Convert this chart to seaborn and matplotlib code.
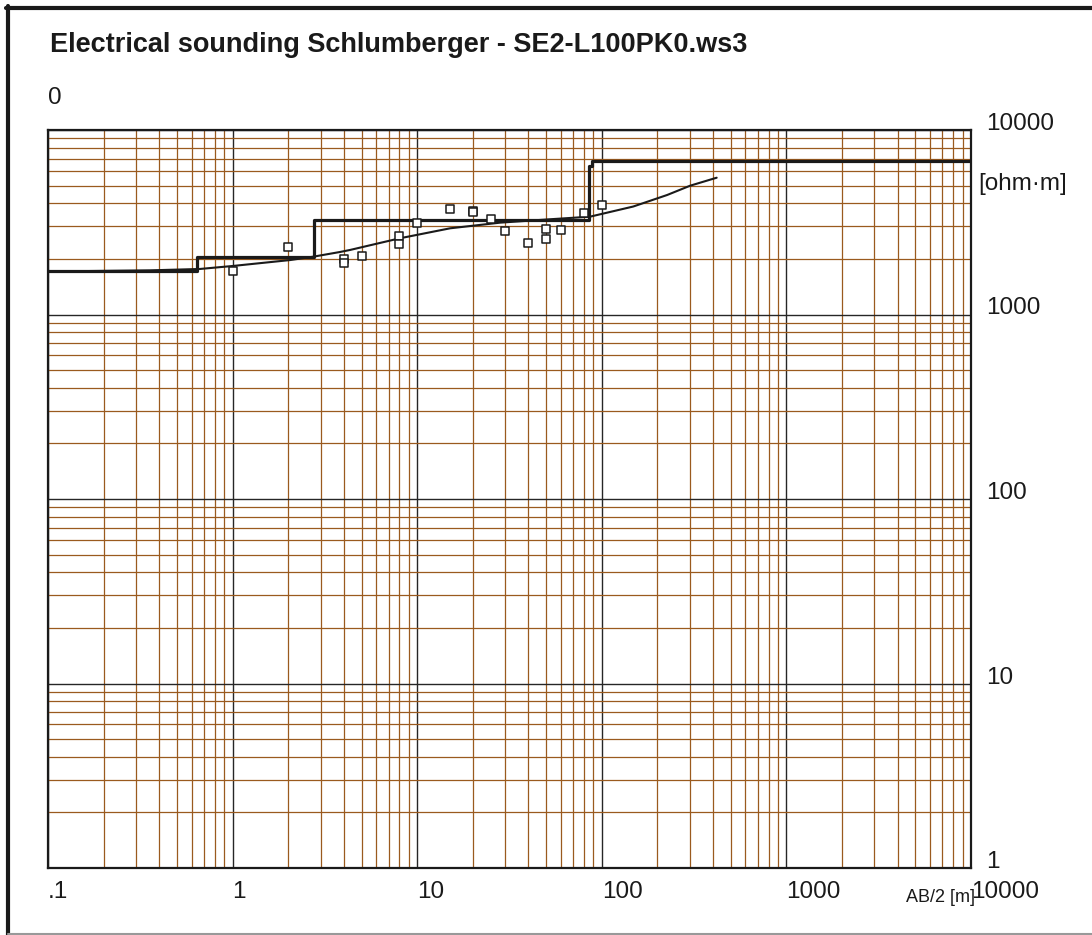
import matplotlib
matplotlib.use('Agg')
import matplotlib.pyplot as plt
import matplotlib.ticker as mticker
from matplotlib.lines import Line2D
import seaborn as sns
import pandas as pd

# Data
###############################################################################

# measured apparent resistivity (squares)
ab2 = [1, 2, 4, 4, 5, 8, 8, 10, 15, 20, 20, 25, 30, 40, 50, 50, 60, 80, 100]
rho = [1720, 2330, 1990, 1905, 2075, 2660, 2410, 3115, 3720, 3650, 3615,
       3280, 2845, 2450, 2920, 2575, 2870, 3560, 3900]

# calculated sounding curve
curve_ab2 = [0.1, 0.357, 0.665, 1.0, 2.05, 2.73, 3.82, 4.33, 8.07, 15.1,
             28.1, 52.4, 86.3, 148, 226, 301, 419]
curve_rho = [1710, 1735, 1765, 1832, 1973, 2057, 2182, 2238, 2590, 2933,
             3146, 3282, 3390, 3848, 4444, 4990, 5513]

# layered model (step line)
model_ab2 = [0.1, 0.64, 2.76, 85.3, 88.5, 10000]
model_rho = [1727, 2056, 3270, 6380, 6830, 6830]

x_ticks = [0.1, 1, 10, 100, 1000, 10000]
x_labels = ['.1', '1', '10', '100', '1000', '10000']
y_ticks = [1, 10, 100, 1000, 10000]
y_labels = ['1', '10', '100', '1000', '10000']

df_meas = pd.DataFrame({'AB/2': ab2, 'rho': rho})
df_curve = pd.DataFrame({'AB/2': curve_ab2, 'rho': curve_rho})
df_model = pd.DataFrame({'AB/2': model_ab2, 'rho': model_rho})

# Style
###############################################################################

sns.set_theme(style='white')
plt.rcParams['font.family'] = ['Liberation Sans', 'DejaVu Sans']
plt.rcParams['text.color'] = 'k'

fig = plt.figure(figsize=(10.92, 9.35), dpi=100)
ax = fig.add_axes([48 / 1092, 1 - 868 / 935, (971 - 48) / 1092, (868 - 130) / 935])

ax.set_xscale('log')
ax.set_yscale('log')
ax.set_xlim(0.1, 10000)
ax.set_ylim(1, 10000)

ax.xaxis.set_minor_locator(mticker.LogLocator(base=10, subs=range(2, 10), numticks=50))
ax.yaxis.set_minor_locator(mticker.LogLocator(base=10, subs=range(2, 10), numticks=50))
ax.xaxis.set_minor_formatter(mticker.NullFormatter())
ax.yaxis.set_minor_formatter(mticker.NullFormatter())

ax.grid(which='minor', color='#9a5a1e', linewidth=0.9)
ax.grid(which='major', color='#262626', linewidth=1.0)
ax.set_axisbelow(True)

# Plot
###############################################################################

sns.lineplot(data=df_model, x='AB/2', y='rho', ax=ax, color='k', linewidth=2.3,
             drawstyle='steps-post', sort=False, estimator=None, zorder=3)
sns.lineplot(data=df_curve, x='AB/2', y='rho', ax=ax, color='k', linewidth=1.5,
             sort=False, estimator=None, zorder=4)
sns.scatterplot(data=df_meas, x='AB/2', y='rho', ax=ax, marker='s', s=34,
                facecolor='white', edgecolor='k', linewidth=1.1, zorder=5)

ax.set_xlabel('')
ax.set_ylabel('')

ax.set_xticks(x_ticks)
ax.set_xticklabels(x_labels, ha='left', fontsize=17.5)
ax.yaxis.tick_right()
ax.set_yticks(y_ticks)
ax.set_yticklabels(y_labels, ha='left', va='baseline', fontsize=17.5)
ax.tick_params(axis='x', which='both', length=0, pad=9, colors='k')
ax.tick_params(axis='y', which='both', length=0, pad=11, colors='k')
for lab in ax.get_yticklabels():
    lab.set_va('baseline')

for sp in ax.spines.values():
    sp.set_color('k')
    sp.set_linewidth(1.6)

# Texts
###############################################################################

fig.text(50 / 1092, 1 - 52 / 935, 'Electrical sounding Schlumberger - SE2-L100PK0.ws3',
         fontsize=19.5, fontweight='bold', ha='left', va='baseline', color='k')
fig.text(48 / 1092, 1 - 104 / 935, '0', fontsize=17.5, ha='left', va='baseline', color='k')
fig.text(978 / 1092, 1 - 190 / 935, '[ohm·m]', fontsize=17.5, ha='left', va='baseline',
         color='k')
fig.text(975 / 1092, 1 - 902 / 935, 'AB/2 [m]', fontsize=13, ha='right', va='baseline',
         color='k')

# outer frame
fig.add_artist(Line2D([8 / 1092, 8 / 1092], [0, 1 - 6 / 935], color='k', linewidth=3,
                      transform=fig.transFigure))
fig.add_artist(Line2D([6 / 1092, 1], [1 - 8 / 935, 1 - 8 / 935], color='k', linewidth=3,
                      transform=fig.transFigure))
fig.add_artist(Line2D([8 / 1092, 1], [1 - 933.5 / 935, 1 - 933.5 / 935], color='#999999',
                      linewidth=1.5, transform=fig.transFigure))

plt.savefig('out.png', dpi=100)
